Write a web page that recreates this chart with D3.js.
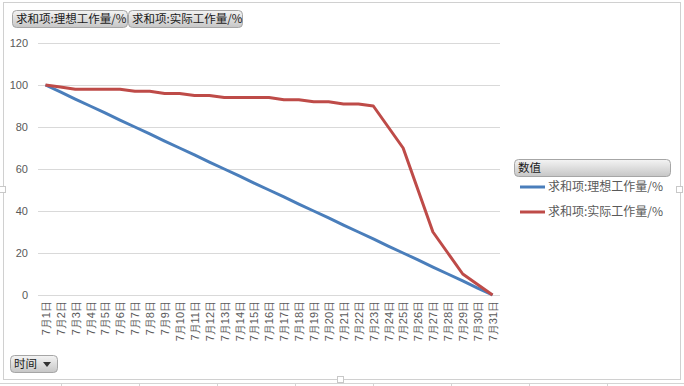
<!DOCTYPE html>
<html>
<head>
<meta charset="utf-8">
<script src="https://cdn.jsdelivr.net/npm/d3@7"></script>
<style>
  body { margin: 0; background: #fff; }
  svg { display: block; font-family: "Noto Sans CJK SC", "Liberation Sans", sans-serif; }
</style>
</head>
<body>
<div class="chart"></div>
<script>
// data
const days = ["7月1日", "7月2日", "7月3日", "7月4日", "7月5日", "7月6日", "7月7日", "7月8日", "7月9日", "7月10日",
    "7月11日", "7月12日", "7月13日", "7月14日", "7月15日", "7月16日", "7月17日", "7月18日", "7月19日", "7月20日",
    "7月21日", "7月22日", "7月23日", "7月24日", "7月25日", "7月26日", "7月27日", "7月28日", "7月29日", "7月30日", "7月31日"]
const ideal = [100, 96.7, 93.3, 90, 86.7, 83.3, 80, 76.7, 73.3, 70, 66.7, 63.3, 60, 56.7, 53.3, 50,
    46.7, 43.3, 40, 36.7, 33.3, 30, 26.7, 23.3, 20, 16.7, 13.3, 10, 6.7, 3.3, 0]
const actual = [100, 99, 98, 98, 98, 98, 97, 97, 96, 96, 95, 95, 94, 94, 94, 94,
    93, 93, 92, 92, 91, 91, 90, 80, 70, 50, 30, 20, 10, 5, 0]
const yTicks = [0, 20, 40, 60, 80, 100, 120]
const seriesNames = ["求和项:理想工作量/%", "求和项:实际工作量/%"]
const colors = ["#4a7ebb", "#be4b48"]

const W = 684, H = 386
const plot = { left: 38, right: 500, top: 43, bottom: 295 }

const svg = d3.select(".chart").append("svg")
    .attr("width", W)
    .attr("height", H)

const defs = svg.append("defs")
const grad = defs.append("linearGradient")
    .attr("id", "btn")
    .attr("x1", 0).attr("y1", 0).attr("x2", 0).attr("y2", 1)
grad.append("stop").attr("offset", "0%").attr("stop-color", "#f4f4f4")
grad.append("stop").attr("offset", "100%").attr("stop-color", "#c6c6c6")

// spreadsheet cells peeking out under the chart
svg.append("line")
    .attr("x1", 0).attr("x2", W).attr("y1", 383.5).attr("y2", 383.5)
    .style("stroke", "#d4d4d4")
svg.selectAll("line.cell")
    .data([61, 139, 217, 295, 373, 451, 529, 607])
    .enter().append("line")
    .attr("class", "cell")
    .attr("x1", d => d + 0.5).attr("x2", d => d + 0.5)
    .attr("y1", 383).attr("y2", H)
    .style("stroke", "#d4d4d4")

// chart frame
svg.append("rect")
    .attr("x", 3.5).attr("y", 2.5)
    .attr("width", 677).attr("height", 377)
    .style("fill", "#fff")
    .style("stroke", "#d0d0d0")

// resize handles
svg.selectAll("rect.handle")
    .data([[341, 380], [680, 190], [3, 190]])
    .enter().append("rect")
    .attr("class", "handle")
    .attr("x", d => d[0] - 3.5).attr("y", d => d[1] - 3.5)
    .attr("width", 6).attr("height", 6)
    .style("fill", "#fff")
    .style("stroke", "#c8c8c8")

const x = d3.scalePoint()
    .domain(days)
    .range([plot.left, plot.right])
    .padding(0.5)

const y = d3.scaleLinear()
    .domain([0, 120])
    .range([plot.bottom, plot.top])

// horizontal grid
svg.selectAll("line.grid")
    .data(yTicks)
    .enter().append("line")
    .attr("class", "grid")
    .attr("x1", plot.left)
    .attr("x2", plot.right)
    .attr("y1", d => Math.round(y(d)) + 0.5)
    .attr("y2", d => Math.round(y(d)) + 0.5)
    .style("stroke", "#d9d9d9")
    .style("stroke-width", 1)

// y axis labels
const yAxis = d3.axisLeft(y)
    .tickValues(yTicks)
    .tickSize(0)
    .tickPadding(10)
svg.append("g")
    .attr("class", "y axis")
    .attr("transform", `translate(${plot.left},0)`)
    .call(yAxis)
    .call(g => g.select(".domain").remove())
    .selectAll("text")
    .style("font-size", "11px")
    .style("fill", "#595959")
    .style("font-family", "'Liberation Sans', sans-serif")

// x axis labels, vertical
const xAxis = d3.axisBottom(x)
    .tickSize(0)
    .tickPadding(0)
svg.append("g")
    .attr("class", "x axis")
    .attr("transform", `translate(0,${plot.bottom})`)
    .call(xAxis)
    .call(g => g.select(".domain").remove())
    .selectAll("text")
    .attr("transform", "rotate(-90)")
    .attr("x", -6)
    .attr("y", 0)
    .attr("dy", "0.35em")
    .style("text-anchor", "end")
    .style("font-size", "11px")
    .style("fill", "#595959")

// lines
const line = d3.line()
    .x((d, i) => x(days[i]))
    .y(d => y(d))

svg.selectAll("path.series")
    .data([ideal, actual])
    .enter().append("path")
    .attr("class", "series")
    .attr("d", d => line(d))
    .style("fill", "none")
    .style("stroke", (d, i) => colors[i])
    .style("stroke-width", 3)
    .style("stroke-linejoin", "round")

// field buttons
function button(x0, y0, w, label, arrow) {
    const g = svg.append("g").attr("transform", `translate(${x0},${y0})`)
    g.append("rect")
        .attr("x", 0.5).attr("y", 0.5)
        .attr("width", w).attr("height", 17)
        .attr("rx", 4)
        .style("fill", "url(#btn)")
        .style("stroke", "#a6a6a6")
    g.append("text")
        .attr("x", 4).attr("y", 13)
        .style("font-size", "11.5px")
        .style("fill", "#1a1a1a")
        .text(label)
    if (arrow) {
        g.append("path")
            .attr("d", `M${w - 14},7 L${w - 6},7 L${w - 10},12 Z`)
            .style("fill", "#333")
    }
}
button(12, 10, 115, seriesNames[0])
button(128, 10, 114, seriesNames[1])
button(10, 355, 47, "时间", true)
button(514, 159, 156, "数值")

// legend
const legend = svg.selectAll("g.legend")
    .data(seriesNames)
    .enter().append("g")
    .attr("class", "legend")
    .attr("transform", (d, i) => `translate(520,${187 + i * 25})`)
legend.append("line")
    .attr("x1", 0).attr("x2", 25)
    .style("stroke", (d, i) => colors[i])
    .style("stroke-width", 3)
legend.append("text")
    .attr("x", 28)
    .attr("dy", "0.35em")
    .style("font-size", "12px")
    .style("fill", "#595959")
    .text(d => d)
</script>
</body>
</html>
